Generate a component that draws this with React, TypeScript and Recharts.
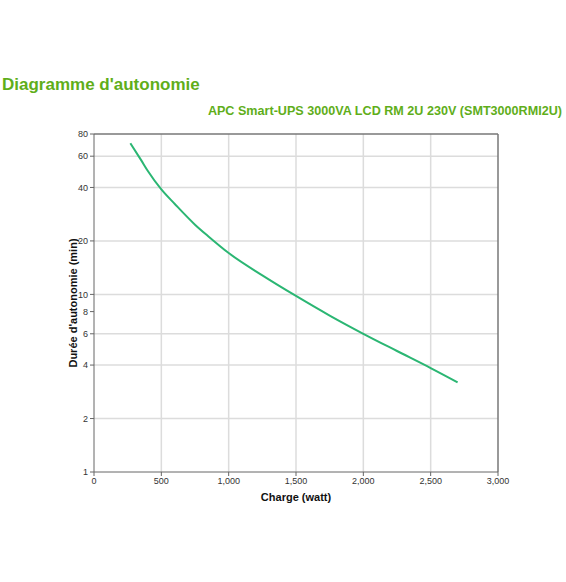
import React from "react";
import {
  LineChart,
  Line,
  XAxis,
  YAxis,
  CartesianGrid,
  ReferenceLine,
} from "recharts";

const loadWatts = [270, 350, 400, 500, 600, 750, 850, 1000, 1250, 1500, 1750, 2000, 2250, 2500, 2700];
const runtimeMin = [71, 57, 49.5, 39, 32.3, 24.7, 21.2, 17.1, 12.8, 9.8, 7.6, 6.0, 4.8, 3.85, 3.2];
const yTicks = [1, 2, 4, 6, 8, 10, 20, 40, 60, 80];
const xTicks = [0, 500, 1000, 1500, 2000, 2500, 3000];

const data = loadWatts.map((w, i) => ({ w, t: runtimeMin[i] }));

const FONT = "'Liberation Sans', Arial, sans-serif";
const GREEN = "#5fae1a";

export default function App() {
  return (
    <div
      style={{
        position: "absolute",
        left: 0,
        top: 0,
        width: 566,
        height: 582,
        background: "#fff",
        fontFamily: FONT,
      }}
    >
      <div
        style={{
          position: "absolute",
          left: 2,
          top: 75,
          fontSize: 17,
          fontWeight: "bold",
          color: GREEN,
          whiteSpace: "nowrap",
        }}
      >
        Diagramme d'autonomie
      </div>
      <div
        style={{
          position: "absolute",
          right: 4,
          top: 104,
          fontSize: 12.6,
          fontWeight: "bold",
          color: GREEN,
          whiteSpace: "nowrap",
        }}
      >
        APC Smart-UPS 3000VA LCD RM 2U 230V (SMT3000RMI2U)
      </div>
      <div style={{ position: "absolute", left: 0, top: 0 }}>
        <LineChart
          width={566}
          height={582}
          data={data}
          margin={{ top: 134, right: 68, bottom: 80, left: 64 }}
        >
          <CartesianGrid
            stroke="#dcdcdc"
            strokeWidth={1.5}
            horizontalValues={[2, 4, 6, 8, 10, 20, 40, 60]}
            verticalValues={[500, 1000, 1500, 2000, 2500]}
          />
          <XAxis
            dataKey="w"
            type="number"
            domain={[0, 3000]}
            ticks={xTicks}
            tickFormatter={(v) => v.toLocaleString("en-US")}
            height={30}
            stroke="#666"
            tick={{ fontSize: 9, fill: "#333", fontFamily: FONT }}
            tickSize={4}
            label={{
              value: "Charge (watt)",
              position: "insideBottom",
              offset: 1,
              style: { fontSize: 11, fontWeight: "bold", fill: "#111", fontFamily: FONT },
            }}
          />
          <YAxis
            type="number"
            scale="log"
            domain={[1, 80]}
            ticks={yTicks}
            allowDataOverflow
            width={30}
            stroke="#666"
            tick={{ fontSize: 9, fill: "#333", fontFamily: FONT }}
            tickSize={4}
            label={{
              value: "Durée d'autonomie (min)",
              angle: -90,
              position: "insideLeft",
              offset: 9,
              style: {
                textAnchor: "middle",
                fontSize: 11,
                fontWeight: "bold",
                fill: "#111",
                fontFamily: FONT,
              },
            }}
          />
          <ReferenceLine y={80} stroke="#777" strokeWidth={1.5} />
          <ReferenceLine x={3000} stroke="#777" strokeWidth={1.5} />
          <Line
            dataKey="t"
            type="monotone"
            stroke="#2bb673"
            strokeWidth={2}
            dot={false}
            isAnimationActive={false}
          />
        </LineChart>
      </div>
    </div>
  );
}
